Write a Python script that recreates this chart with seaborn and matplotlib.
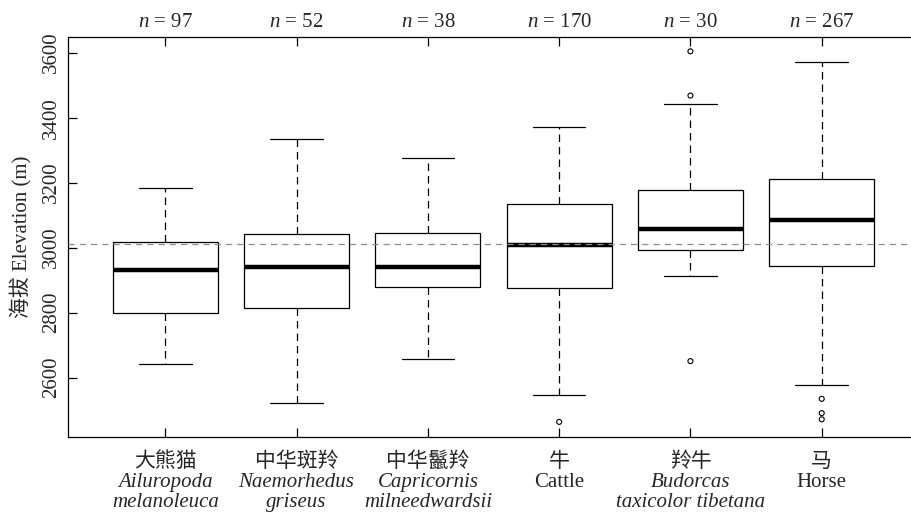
import numpy as np
import pandas as pd
import seaborn as sns
import matplotlib.pyplot as plt

# species labels (three lines under each box)
cn_names = ["大熊猫", "中华斑羚", "中华鬣羚", "牛", "羚牛", "马"]
latin_line1 = ["Ailuropoda", "Naemorhedus", "Capricornis", "Cattle", "Budorcas", "Horse"]
latin_line2 = ["melanoleuca", "griseus", "milneedwardsii", "", "taxicolor tibetana", ""]
latin_italic = [True, True, True, False, True, False]
n_obs = [97, 52, 38, 170, 30, 267]

# box summaries (m)
whisker_low = [2642, 2522, 2657, 2546, 2914, 2578]
q1 = [2798, 2813, 2878, 2877, 2992, 2944]
median = [2932, 2940, 2942, 3008, 3057, 3085]
q3 = [3017, 3041, 3045, 3133, 3178, 3212]
whisker_high = [3184, 3333, 3276, 3372, 3443, 3570]

# outliers
outlier_group = ["牛", "羚牛", "羚牛", "羚牛", "马", "马", "马"]
outlier_elev = [2464, 3604, 3468, 2651, 2535, 2491, 2472]

overall_mean = 3011

sns.set_theme(style="ticks")
plt.rcParams["font.family"] = ["Liberation Serif", "Noto Sans CJK SC"]
plt.rcParams["mathtext.fontset"] = "custom"
plt.rcParams["mathtext.rm"] = "Liberation Serif"
plt.rcParams["mathtext.it"] = "Liberation Serif:italic"

rows = []
for i, name in enumerate(cn_names):
    for v in (whisker_low[i], q1[i], median[i], q3[i], whisker_high[i]):
        rows.append({"species": name, "elev": v})
box_df = pd.DataFrame(rows)
out_df = pd.DataFrame({"species": outlier_group, "elev": outlier_elev})

fig = plt.figure(figsize=(9.11, 5.12), dpi=100)
ax = fig.add_axes([68 / 911, 1 - 437.3 / 512, (919 - 68) / 911, (437.3 - 36.7) / 512])

sns.boxplot(
    data=box_df, x="species", y="elev", order=cn_names,
    whis=(0, 100), width=0.8, color="white", linecolor="black",
    linewidth=0.9, showfliers=False,
    medianprops={"color": "black", "linewidth": 3.2},
    whiskerprops={"color": "black", "linewidth": 0.9, "linestyle": (0, (6, 4))},
    capprops={"color": "black", "linewidth": 0.9},
    boxprops={"edgecolor": "black", "linewidth": 0.9},
    ax=ax,
)

n_before = len(ax.collections)
sns.stripplot(
    data=out_df, x="species", y="elev", order=cn_names,
    jitter=False, size=3.6, linewidth=0.8, color="white",
    edgecolor="black", ax=ax,
)
for coll in ax.collections[n_before:]:
    coll.set_facecolor("none")
    coll.set_edgecolor("black")
    coll.set_zorder(4)

ax.axhline(overall_mean, color="#8c8c8c", linewidth=0.9,
           linestyle=(0, (5, 4)), zorder=5)

ax.set_ylim(2416.6, 3649)
ax.set_xlim(-0.741, 5.741)
ax.set_yticks([2600, 2800, 3000, 3200, 3400, 3600])
ax.set_xticks(range(len(cn_names)))
ax.set_xticklabels([""] * len(cn_names))
ax.tick_params(axis="both", direction="in", length=6.5, width=0.9, color="black")
ax.tick_params(axis="x", top=True, bottom=True)
ax.tick_params(axis="y", labelsize=15, labelrotation=90, pad=5)
for lab in ax.get_yticklabels():
    lab.set_va("center")

for side in ["left", "top", "bottom"]:
    ax.spines[side].set_color("black")
    ax.spines[side].set_linewidth(0.9)
ax.spines["right"].set_visible(False)

ax.set_xlabel("")
ax.set_ylabel("海拔 Elevation (m)", fontsize=15, labelpad=7)

for i in range(len(cn_names)):
    ax.annotate(rf"$n$ = {n_obs[i]}", xy=(i, 1), xycoords=("data", "axes fraction"),
                xytext=(0, 7.3), textcoords="offset points",
                ha="center", va="baseline", fontsize=15)
    ax.annotate(cn_names[i], xy=(i, 0), xycoords=("data", "axes fraction"),
                xytext=(0, -21.3), textcoords="offset points",
                ha="center", va="baseline", fontsize=15)
    style = "italic" if latin_italic[i] else "normal"
    ax.annotate(latin_line1[i], xy=(i, 0), xycoords=("data", "axes fraction"),
                xytext=(0, -35.8), textcoords="offset points",
                ha="center", va="baseline", fontsize=15, fontstyle=style)
    if latin_line2[i]:
        ax.annotate(latin_line2[i], xy=(i, 0), xycoords=("data", "axes fraction"),
                    xytext=(0, -50.2), textcoords="offset points",
                    ha="center", va="baseline", fontsize=15, fontstyle=style)

fig.savefig("out.png", dpi=100)
plt.close(fig)
